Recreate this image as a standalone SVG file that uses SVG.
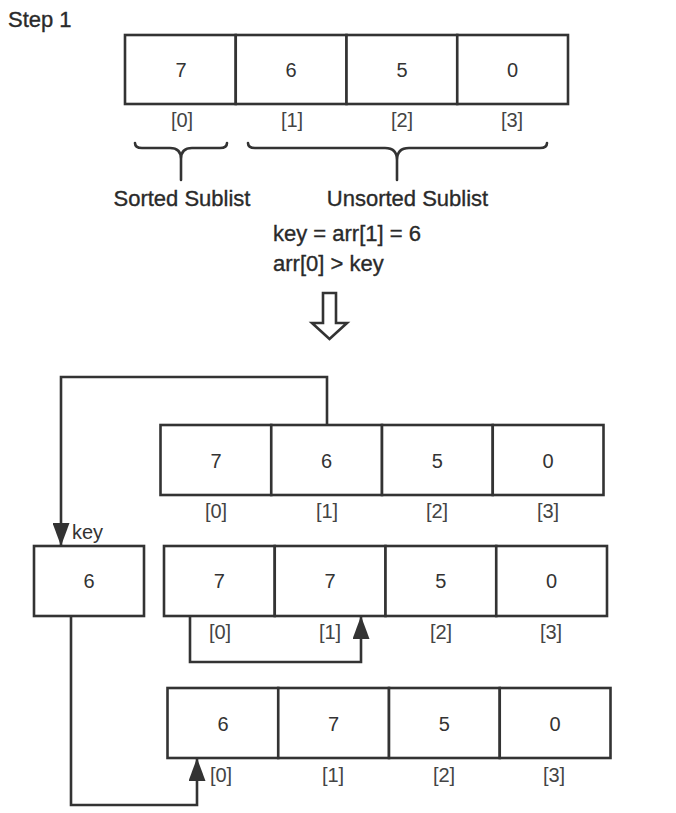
<svg xmlns="http://www.w3.org/2000/svg" width="676" height="813" viewBox="0 0 676 813">
<style>
.cell{fill:#fff;stroke:#333;stroke-width:2.6}
.num{font-family:"Liberation Sans",Arial,sans-serif;font-size:20px;fill:#333;text-anchor:middle}
.idx{font-family:"Liberation Sans",Arial,sans-serif;font-size:20px;fill:#444;text-anchor:middle}
.lbl{font-family:"Liberation Sans",Arial,sans-serif;font-size:22px;fill:#2a2a2a;stroke:#2a2a2a;stroke-width:0.35}
.lbl2{font-family:"Liberation Sans",Arial,sans-serif;font-size:20px;fill:#333}
.conn{fill:none;stroke:#333;stroke-width:2.6;stroke-linejoin:miter}
.brace{fill:none;stroke:#333;stroke-width:2.6;stroke-linecap:round}
</style>
<defs>
<marker id="arr" markerUnits="userSpaceOnUse" markerWidth="24" markerHeight="17" refX="23" refY="8.5" orient="auto">
<path d="M0,0 L23,8.5 L0,17 z" fill="#333"/>
</marker>
</defs>
<rect width="676" height="813" fill="#fff"/>

<text class="lbl" x="8" y="27">Step 1</text>

<g id="array-a">
<rect class="cell" x="125" y="35" width="110.75" height="69"/>
<rect class="cell" x="235.75" y="35" width="110.75" height="69"/>
<rect class="cell" x="346.5" y="35" width="110.75" height="69"/>
<rect class="cell" x="457.25" y="35" width="110.75" height="69"/>
<text class="num" x="181" y="77">7</text>
<text class="num" x="291" y="77">6</text>
<text class="num" x="402" y="77">5</text>
<text class="num" x="512.5" y="77">0</text>
<text class="idx" x="182" y="127">[0]</text>
<text class="idx" x="292" y="127">[1]</text>
<text class="idx" x="402" y="127">[2]</text>
<text class="idx" x="512" y="127">[3]</text>
</g>

<g id="brace-sorted">
<path class="brace" d="M135,143 Q135,148 142,148 L170,148 Q181,148 181,159 L181,180 M181,159 Q181,148 192,148 L220,148 Q227,148 227,143"/>
<text class="lbl" x="182" y="206" text-anchor="middle">Sorted Sublist</text>
</g>

<g id="brace-unsorted">
<path class="brace" d="M248,143 Q248,148 255,148 L385,148 Q397,148 397,160 L397,180 M397,160 Q397,148 409,148 L540,148 Q547,148 547,143"/>
<text class="lbl" x="407.5" y="206" text-anchor="middle">Unsorted Sublist</text>
</g>

<g id="explanation">
<text class="lbl" x="273" y="241">key = arr[1] = 6</text>
<text class="lbl" x="273" y="271">arr[0] &gt; key</text>
</g>

<g id="step-arrow">
<polygon points="323,293 336,293 336,323 347,323 329.5,339 312,323 323,323" fill="#fff" stroke="#333" stroke-width="2.6" stroke-linejoin="miter"/>
</g>

<g id="array-b">
<rect class="cell" x="160.5" y="425" width="110.75" height="70"/>
<rect class="cell" x="271.25" y="425" width="110.75" height="70"/>
<rect class="cell" x="382" y="425" width="110.75" height="70"/>
<rect class="cell" x="492.75" y="425" width="110.75" height="70"/>
<text class="num" x="216" y="467.5">7</text>
<text class="num" x="326.6" y="467.5">6</text>
<text class="num" x="437.4" y="467.5">5</text>
<text class="num" x="548" y="467.5">0</text>
<text class="idx" x="216" y="518">[0]</text>
<text class="idx" x="327" y="518">[1]</text>
<text class="idx" x="437" y="518">[2]</text>
<text class="idx" x="548" y="518">[3]</text>
</g>

<g id="key-box">
<rect class="cell" x="34" y="546" width="110" height="70"/>
<text class="num" x="89" y="588">6</text>
<text class="lbl2" x="72" y="539">key</text>
</g>

<g id="array-c">
<rect class="cell" x="164" y="546" width="110.75" height="70"/>
<rect class="cell" x="274.75" y="546" width="110.75" height="70"/>
<rect class="cell" x="385.5" y="546" width="110.75" height="70"/>
<rect class="cell" x="496.25" y="546" width="110.75" height="70"/>
<text class="num" x="219.4" y="588">7</text>
<text class="num" x="330" y="588">7</text>
<text class="num" x="440.9" y="588">5</text>
<text class="num" x="551.6" y="588">0</text>
<text class="idx" x="220" y="639">[0]</text>
<text class="idx" x="330" y="639">[1]</text>
<text class="idx" x="441" y="639">[2]</text>
<text class="idx" x="551" y="639">[3]</text>
</g>

<g id="array-d">
<rect class="cell" x="167.5" y="688" width="110.75" height="70"/>
<rect class="cell" x="278.25" y="688" width="110.75" height="70"/>
<rect class="cell" x="389" y="688" width="110.75" height="70"/>
<rect class="cell" x="499.75" y="688" width="110.75" height="70"/>
<text class="num" x="223" y="730.5">6</text>
<text class="num" x="333.6" y="730.5">7</text>
<text class="num" x="444.4" y="730.5">5</text>
<text class="num" x="555" y="730.5">0</text>
<text class="idx" x="221" y="782">[0]</text>
<text class="idx" x="333" y="782">[1]</text>
<text class="idx" x="444" y="782">[2]</text>
<text class="idx" x="554" y="782">[3]</text>
</g>

<g id="connectors">
<path class="conn" d="M327,425 V377 H61 V546" marker-end="url(#arr)"/>
<path class="conn" d="M190,616 V662 H361 V616" marker-end="url(#arr)"/>
<path class="conn" d="M71,616 V805 H197 V758" marker-end="url(#arr)"/>
</g>
</svg>
